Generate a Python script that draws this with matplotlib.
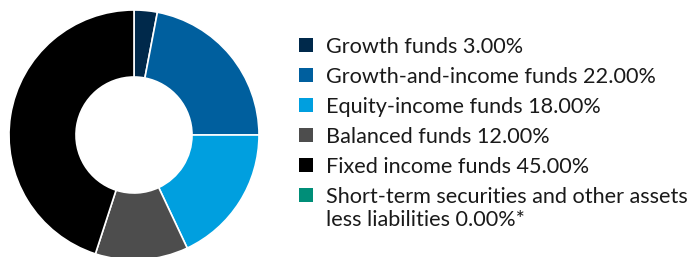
import matplotlib
matplotlib.use("Agg")
import matplotlib.pyplot as plt
from matplotlib.patches import Rectangle

labels = ["Growth funds 3.00%", "Growth-and-income funds 22.00%", "Equity-income funds 18.00%",
          "Balanced funds 12.00%", "Fixed income funds 45.00%",
          "Short-term securities and other assets\nless liabilities 0.00%*"]
values = [3.0, 22.0, 18.0, 12.0, 45.0, 0.0]
colors = ["#00294b", "#005f9e", "#009fdf", "#4d4d4d", "#000000", "#008e78"]

W, H = 694, 257
fig = plt.figure(figsize=(W / 100, H / 100), dpi=100)
cx, cy, r = 134, 135, 125
ax = fig.add_axes([(cx - r) / W, (H - cy - r) / H, 2 * r / W, 2 * r / H])
ax.pie(values[:5], colors=colors[:5], startangle=90, counterclock=False,
       radius=1.0, wedgeprops=dict(width=1 - 58 / 125, edgecolor="white", linewidth=1.2))
ax.set_xlim(-1, 1)
ax.set_ylim(-1, 1)
ax.set_aspect("equal")
ax.axis("off")

font = "Lato"
ys = [45, 75, 105, 135, 165, 195]
for lab, col, y in zip(labels, colors, ys):
    s = 14
    fig.patches.append(Rectangle(((299) / W, (H - y - s / 2) / H), s / W, s / H,
                                 transform=fig.transFigure, facecolor=col, edgecolor="none"))
    for k, line in enumerate(lab.split("\n")):
        fig.text(326 / W, (H - y - 23 * k) / H, line, fontsize=15.6, family=font,
                 color="#1a1a1a", va="center_baseline", ha="left")

fig.savefig("out.png", dpi=100)
